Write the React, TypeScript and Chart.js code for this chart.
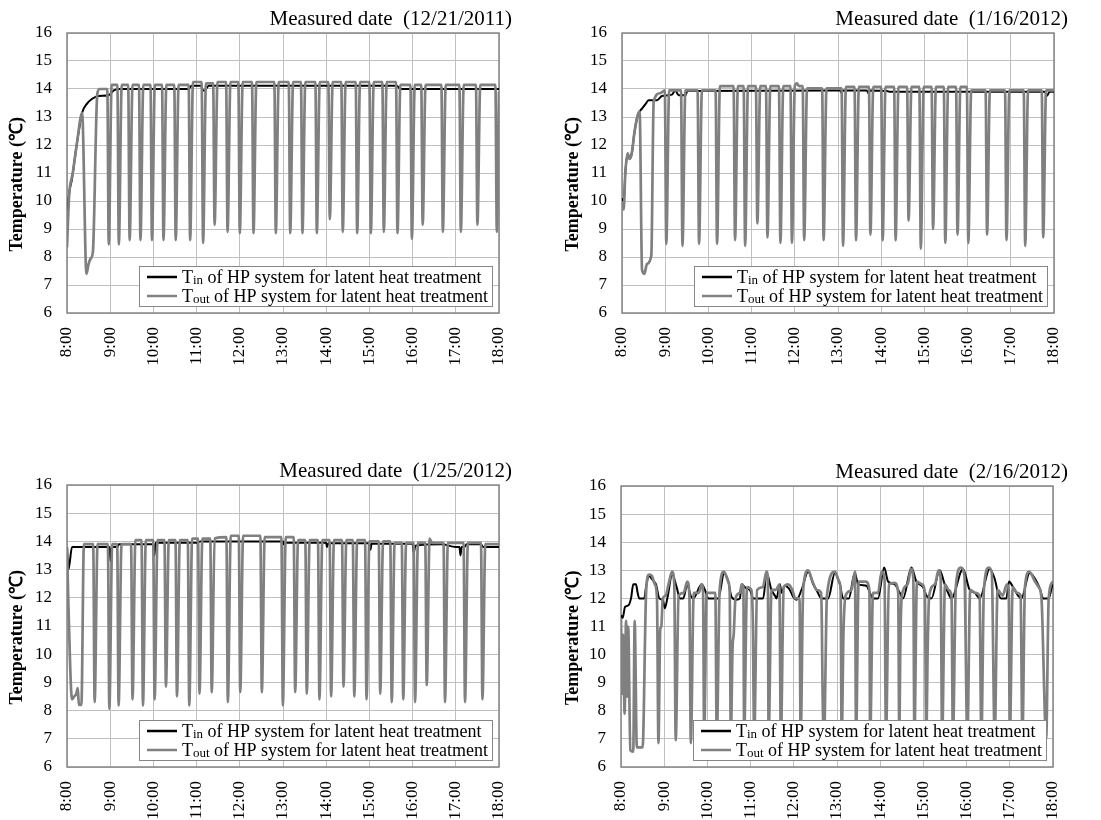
import React, { useEffect, useRef } from "react";
import { Chart, registerables } from "chart.js";

Chart.register(...registerables);
Chart.defaults.font.family = '"Liberation Serif", "Times New Roman", serif';

// ---------- labels ----------
const timeLabels = ["8:00", "9:00", "10:00", "11:00", "12:00", "13:00", "14:00", "15:00", "16:00", "17:00", "18:00"];
const measuredDates = ["Measured date  (12/21/2011)", "Measured date  (1/16/2012)", "Measured date  (1/25/2012)", "Measured date  (2/16/2012)"];
const seriesMain = ["T", "T"];
const seriesSub = ["in", "out"];
const seriesRest = " of HP system for latent heat treatment";
const yAxisTitle = "Temperature (\u2103)";

// ---------- data: [minutes after 8:00, temperature] ----------
const p1Tin: [number, number][] = [
  [0, 8.9], [2, 10.0], [7, 10.8], [14, 12.1], [21, 13.15], [27, 13.45], [35, 13.65], [44, 13.75], [58, 13.78], [65, 13.95], [72, 14.0],
  [169, 14.0], [173, 14.12], [186, 14.12], [189, 13.95], [191, 13.95], [197, 14.12], [458, 14.12], [463, 14.0], [600, 14.0],
];
const p1Tout: [number, number][] = [
  [0, 8.35], [3, 10.2], [8, 11.0], [14, 12.1], [21, 13.15], [27, 7.4], [30, 7.75], [33, 7.95], [36, 8.2], [42, 13.8], [45, 14.0],
  [56, 14.0], [58, 8.45], [62, 14.15],
  [70, 14.15], [72, 8.45], [76, 14.15],
  [85, 14.15], [87, 8.6], [91, 14.15],
  [100, 14.15], [102, 8.6], [106, 14.15],
  [116, 14.15], [118, 8.6], [122, 14.15],
  [132, 14.15], [134, 8.6], [138, 14.15],
  [149, 14.15], [151, 8.6], [155, 14.15],
  [169, 14.15], [171, 8.6], [175, 14.25],
  [187, 14.25], [189, 8.5], [193, 14.2],
  [203, 14.2], [205, 9.15], [209, 14.25],
  [221, 14.25], [223, 8.9], [227, 14.25],
  [238, 14.25], [240, 8.85], [244, 14.25],
  [257, 14.25], [259, 8.85], [263, 14.25],
  [288, 14.25], [290, 8.85], [294, 14.25],
  [308, 14.25], [310, 8.85], [314, 14.25],
  [325, 14.25], [327, 8.85], [331, 14.25],
  [345, 14.25], [347, 8.85], [351, 14.25],
  [363, 14.25], [365, 9.35], [369, 14.25],
  [381, 14.25], [383, 8.9], [387, 14.25],
  [401, 14.25], [403, 8.85], [407, 14.25],
  [420, 14.25], [422, 8.85], [426, 14.25],
  [438, 14.25], [440, 8.9], [444, 14.25],
  [457, 14.25], [459, 8.85], [463, 14.15],
  [477, 14.15], [479, 8.65], [483, 14.15],
  [492, 14.15], [494, 9.15], [498, 14.15],
  [520, 14.15], [522, 8.9], [526, 14.15],
  [545, 14.15], [547, 8.9], [551, 14.15],
  [568, 14.15], [570, 9.15], [574, 14.15],
  [595, 14.15], [597, 8.9], [600, 13.9],
];

const p2Tin: [number, number][] = [
  [0, 10.1], [2.3, 9.9], [4.6, 11.0], [7.9, 11.7], [10.6, 11.5], [13.9, 11.75], [17, 12.4], [21.7, 13.05], [27.8, 13.3], [32.4, 13.45],
  [37, 13.6], [48.6, 13.6], [55.5, 13.75], [69.4, 13.8], [74, 13.95], [78.6, 13.78], [88, 13.78], [91, 13.93], [303, 13.95], [305, 13.85],
  [307, 13.95], [340, 13.95], [342, 13.85], [344, 13.95], [368, 13.93], [372, 13.9], [587.5, 13.9], [590, 13.75], [594, 13.9], [600, 13.9],
];
const p2Tout: [number, number][] = [
  [0, 10.0], [2.3, 9.7], [4.6, 11.0], [7.9, 11.7], [10.6, 11.5], [13.9, 11.75], [17, 12.4], [21.7, 13.05], [24.5, 13.2], [27.8, 7.55],
  [31, 7.4], [34.7, 7.75], [40.7, 8.05], [44, 13.55], [53, 13.85], [59.5, 13.95],
  [61.5, 8.47], [65.5, 13.95],
  [82, 13.95], [84, 8.4], [88, 13.95],
  [105, 13.95], [107, 8.47], [111, 13.95],
  [130, 13.95], [132, 8.47], [136, 14.1],
  [155, 14.1], [157, 8.6], [161, 14.1],
  [169, 14.1], [171, 8.4], [175, 14.1],
  [186, 14.1], [188, 9.2], [192, 14.1],
  [200, 14.1], [202, 8.7], [206, 14.1],
  [218, 14.1], [220, 8.5], [224, 14.1],
  [234, 14.1], [236, 8.5], [240, 14.1], [243, 14.2], [246, 14.1],
  [251, 14.1], [253, 8.6], [257, 14.02],
  [278, 14.02], [280, 8.6], [284, 14.02],
  [305, 14.02], [307, 8.4], [311, 14.08],
  [323, 14.08], [325, 8.6], [329, 14.08],
  [343, 14.08], [345, 8.8], [349, 14.08],
  [360, 14.08], [362, 8.6], [366, 14.08],
  [378, 14.08], [380, 8.6], [384, 14.08],
  [396, 14.08], [398, 9.3], [402, 14.08],
  [413, 14.08], [415, 8.3], [419, 14.08],
  [430, 14.08], [432, 9.0], [436, 14.08],
  [447, 14.08], [449, 8.5], [453, 14.08],
  [464, 14.08], [466, 8.8], [470, 14.08],
  [479, 14.08], [481, 8.5], [485, 13.95],
  [505, 13.95], [507, 8.8], [511, 13.95],
  [532, 13.95], [534, 8.6], [538, 13.95],
  [558, 13.95], [560, 8.4], [564, 13.95],
  [583, 13.95], [585, 8.7], [589, 13.95], [600, 13.95],
];

const p3Tin: [number, number][] = [
  [0, 13.8], [2, 13.0], [7, 13.8], [59, 13.8], [60.5, 13.3], [62, 13.8], [70, 13.8], [72, 13.9], [120, 13.9], [121.5, 13.5],
  [123, 13.95], [180, 13.95], [185, 14.0], [300, 14.0], [301, 13.9], [303, 13.95], [360, 13.95], [361, 13.8], [363, 13.93], [420, 13.93],
  [421.5, 13.7], [423, 13.92], [480, 13.92], [481.5, 13.6], [484, 13.85], [520, 13.9], [540, 13.8], [545, 13.8], [546.5, 13.5], [548, 13.8],
  [552, 13.8], [555, 13.9], [575, 13.9], [578, 13.8], [600, 13.8],
];
const p3Tout: [number, number][] = [
  [0, 13.8], [2, 11.7], [7, 8.4], [10, 8.5], [13, 8.6], [15, 8.8], [16.5, 8.2], [20, 8.2], [23.5, 13.9],
  [36.4, 13.9], [38.4, 8.3], [42.4, 13.9],
  [56.8, 13.9], [58.8, 8.06], [62.8, 13.9],
  [69.7, 13.9], [71.7, 8.18], [75.7, 13.9],
  [89, 13.9], [91, 8.4], [95, 14.05],
  [103.5, 14.05], [105.5, 8.18], [109.5, 14.05],
  [119.7, 14.05], [121.7, 8.4], [125.7, 14.05],
  [135.4, 14.05], [137.4, 8.85], [141.4, 14.05],
  [150.7, 14.05], [152.7, 8.5], [156.7, 14.05],
  [167.8, 14.05], [169.8, 8.18], [173.8, 14.1],
  [182, 14.1], [184, 8.6], [188, 14.1],
  [199, 14.1], [201, 8.65], [205, 14.1],
  [221.4, 14.15], [223.4, 8.3], [227.4, 14.2],
  [238.6, 14.2], [240.6, 8.65], [244.6, 14.2],
  [268.6, 14.2], [270.6, 8.65], [274.6, 14.15],
  [297.8, 14.15], [299.8, 8.18], [303.8, 14.15],
  [314.9, 14.15], [316.9, 8.65], [320.9, 14.05],
  [331, 14.05], [333, 8.6], [337, 14.05],
  [348.6, 14.05], [350.6, 8.4], [354.6, 14.05],
  [364.8, 14.05], [366.8, 8.5], [370.8, 14.05],
  [382, 14.05], [384, 8.85], [388, 14.05],
  [397, 14.05], [399, 8.5], [403, 14.05],
  [414, 14.05], [416, 8.4], [420, 14.0],
  [433, 14.0], [435, 8.6], [439, 14.0],
  [449, 14.0], [451, 8.3], [455, 13.95],
  [465, 13.95], [467, 8.4], [471, 13.95],
  [481.4, 13.95], [483.4, 8.3], [487.4, 13.95],
  [497.6, 13.95], [499.6, 8.9], [503.6, 14.1], [507, 13.95],
  [523, 13.95], [525, 8.3], [529, 13.95],
  [550.8, 13.95], [552.8, 8.3], [556.8, 13.95],
  [575, 13.95], [577, 8.4], [581, 13.9], [600, 13.9],
];

const p4Tin: [number, number][] = [
  [0, 11.4], [2.3, 11.3], [5.6, 11.7], [10.2, 11.75], [13.9, 12.0], [17.1, 12.5], [20.8, 12.5], [23.1, 12.2], [25.4, 12.0], [32.4, 12.0],
  [34.7, 12.4], [38.9, 12.8], [42.6, 12.7], [45.8, 12.6], [48.6, 12.5], [53.2, 12.0], [57.8, 11.95], [61, 11.65], [64.3, 12.0], [71.2, 12.85],
  [77.3, 12.4], [81.9, 12.0], [86.5, 12.0], [92, 12.5], [96.7, 12.1], [100.4, 12.0], [112, 12.5], [116.6, 12.3], [121.2, 12.0], [135, 12.0],
  [143.4, 12.9], [149, 12.6], [153.6, 12.05], [160.5, 11.95], [165.1, 12.0], [167.5, 12.5], [174.4, 12.35], [179, 12.3], [183.7, 12.0], [197.5, 12.0],
  [202.2, 12.9], [209, 12.3], [213.7, 12.1], [216, 12.0], [220.7, 12.5], [223, 12.2], [227.6, 12.45], [234.5, 12.3], [239.2, 12.05], [243.8, 11.95],
  [250.7, 12.3], [260, 12.95], [267, 12.5], [271.5, 12.3], [278.5, 12.0], [287.7, 12.0], [297, 12.9], [304, 12.5], [308.5, 12.0], [316.4, 12.0],
  [324.7, 12.9], [329.4, 12.5], [341, 12.45], [345.6, 12.2], [350.2, 12.0], [357, 12.0], [365.5, 13.1], [371, 12.6], [380.3, 12.5], [387.2, 12.2],
  [391.8, 12.0], [403.4, 13.1], [410.3, 12.6], [419.6, 12.4], [424.2, 12.1], [431.1, 12.0], [442.7, 13.0], [449.6, 12.5], [454.3, 12.2], [458.9, 12.0],
  [475, 13.05], [484.3, 12.3], [491.3, 12.2], [498.2, 12.0], [512, 13.05], [519, 12.7], [523.6, 12.2], [528.2, 12.0], [535.2, 12.0], [538.9, 12.6],
  [544.5, 12.4], [551.4, 12.1], [556, 12.0], [567.6, 12.9], [579.2, 12.5], [582.4, 12.3], [586.1, 12.0], [594, 12.0], [600, 12.6],
];
const p4Tout: [number, number][] = [
  [0, 11.3], [1.5, 8.6], [3, 10.7], [5, 7.9], [7, 11.2], [8.5, 8.5], [10, 11.0], [13, 6.6], [17, 6.55], [19, 11.2], [22, 6.7], [30, 6.7],
  [35, 12.3], [39, 12.85], [43, 12.8], [47, 12.5], [50, 12.0], [52, 6.85], [54.5, 10.9], [56, 11.0], [58, 12.0], [62, 12.1], [66, 12.5],
  [71, 12.95], [74, 12.5], [76, 6.95], [80, 12.1], [87, 12.2], [92, 12.6], [95, 12.1], [97, 6.85], [101, 12.2], [108, 12.2], [112, 12.5],
  [114, 12.2], [115.5, 7.0], [119, 12.2], [125, 12.2], [131, 12.2], [133, 7.0], [137, 12.3], [143, 12.95], [149, 12.6], [151, 12.2],
  [152.5, 7.0], [155, 10.3], [156.5, 10.7], [159, 12.0], [165, 12.2], [168, 12.5], [170, 12.4], [171, 7.0], [175, 12.4], [181, 12.3],
  [183, 11.3], [185, 7.0], [189, 12.3], [197, 12.4], [202, 12.95], [204, 12.7], [205, 7.0], [209, 12.3], [215, 12.3], [220, 12.5],
  [222, 7.0], [226, 12.4], [232, 12.5], [238, 12.3], [242, 12.0], [248, 12.0], [249.5, 7.0], [253, 12.3], [260, 13.0], [266, 12.6],
  [272, 12.3], [278, 12.2], [279, 11.0], [280, 8.6], [282, 7.0], [286, 12.1], [297, 12.95], [303, 12.6], [305, 12.3], [306.5, 7.0],
  [309, 10.8], [312, 12.1], [320, 12.3], [325, 12.95], [326.5, 7.0], [330, 12.6], [340, 12.6], [345, 12.3], [346, 7.0], [350, 12.2],
  [357, 12.2], [362, 12.95], [366, 12.7], [368, 7.0], [372, 12.5], [380, 12.55], [385, 12.2], [386.5, 7.0], [388, 10.4], [390, 12.1],
  [398, 12.5], [403, 13.05], [406, 12.7], [407.5, 7.0], [411, 12.6], [418, 12.5], [422, 12.2], [424, 7.0], [426, 10.3], [428, 12.1],
  [436, 12.5], [441, 13.0], [444, 12.7], [446, 7.0], [450, 12.5], [455, 12.3], [459, 12.1], [461, 7.0], [465, 12.4], [472, 13.1],
  [477, 12.8], [481, 7.0], [485, 12.3], [492, 12.2], [498, 12.1], [500.5, 7.0], [504, 12.3], [511, 13.1], [515, 12.9], [519, 7.0],
  [523, 12.3], [530, 12.1], [536, 12.5], [538.5, 12.3], [540, 7.0], [544, 12.4], [550, 12.2], [555, 12.1], [557.5, 7.0], [561, 12.4],
  [567, 12.95], [575, 12.6], [580, 12.4], [584, 12.0], [587, 9.5], [588.5, 8.0], [590.5, 7.0], [594, 12.0], [600, 12.6],
];

const tinSeries = [p1Tin, p2Tin, p3Tin, p4Tin];
const toutSeries = [p1Tout, p2Tout, p3Tout, p4Tout];

// ---------- layout ----------
type Cfg = {
  left: number; top: number; w: number; h: number;
  area: { l: number; t: number; r: number; b: number };
  yTitlePad: number; titleDx: number; titleDy: number;
};
const layouts: Cfg[] = [
  { left: 0, top: 0, w: 550, h: 400, area: { l: 67, t: 33, r: 499, b: 313 }, yTitlePad: 8, titleDx: 13, titleDy: 8 },
  { left: 550, top: 0, w: 551, h: 400, area: { l: 72, t: 33, r: 504, b: 313 }, yTitlePad: 14, titleDx: 14, titleDy: 8 },
  { left: 0, top: 400, w: 550, h: 420, area: { l: 67, t: 85, r: 499, b: 367 }, yTitlePad: 8, titleDx: 13, titleDy: 8 },
  { left: 550, top: 400, w: 551, h: 420, area: { l: 71, t: 86, r: 503, b: 367 }, yTitlePad: 14, titleDx: 15, titleDy: 8 },
];

const FONT = '"Liberation Serif", "Times New Roman", serif';
const TIN_COLOR = "#000000";
const TOUT_COLOR = "#808080";
const FRAME_COLOR = "#868686";

const panelDeco = {
  id: "panelDeco",
  beforeDatasetsDraw(chart: any) {
    const { ctx, chartArea: a } = chart;
    ctx.save();
    ctx.strokeStyle = FRAME_COLOR;
    ctx.lineWidth = 1.5;
    ctx.strokeRect(a.left, a.top, a.right - a.left, a.bottom - a.top);
    ctx.restore();
  },
  afterDraw(chart: any, _args: any, opts: any) {
    const { ctx, chartArea: a } = chart;
    ctx.save();
    ctx.fillStyle = "#000";
    ctx.font = `21px ${FONT}`;
    ctx.textAlign = "right";
    ctx.textBaseline = "alphabetic";
    ctx.fillText(opts.title, a.right + opts.titleDx, a.top - opts.titleDy);

    const bw = 353, bh = 40;
    const bx = Math.round(a.right - 7 - bw), by = Math.round(a.bottom - 7 - bh);
    ctx.fillStyle = "#fff";
    ctx.fillRect(bx, by, bw, bh);
    ctx.strokeStyle = FRAME_COLOR;
    ctx.lineWidth = 1;
    ctx.strokeRect(bx + 0.5, by + 0.5, bw, bh);

    chart.data.datasets.forEach((ds: any, i: number) => {
      const ly = by + 11 + i * 19;
      ctx.strokeStyle = ds.borderColor;
      ctx.lineWidth = 2.5;
      ctx.beginPath();
      ctx.moveTo(bx + 8, ly);
      ctx.lineTo(bx + 38, ly);
      ctx.stroke();
      const base = by + 17 + i * 19;
      let x = bx + 43;
      ctx.textAlign = "left";
      ctx.fillStyle = "#000";
      ctx.font = `18px ${FONT}`;
      ctx.fillText(seriesMain[i], x, base);
      x += ctx.measureText(seriesMain[i]).width;
      ctx.font = `13px ${FONT}`;
      ctx.fillText(seriesSub[i], x, base + 1);
      x += ctx.measureText(seriesSub[i]).width;
      ctx.font = `18px ${FONT}`;
      ctx.fillText(seriesRest, x, base);
    });
    ctx.restore();
  },
};

function Panel({ idx }: { idx: number }) {
  const ref = useRef<HTMLCanvasElement>(null);
  const cfg = layouts[idx];
  useEffect(() => {
    const toXY = (arr: [number, number][]) => arr.map(([x, y]) => ({ x, y }));
    const chart = new Chart(ref.current as HTMLCanvasElement, {
      type: "line",
      data: {
        datasets: [
          {
            label: "Tin of HP system for latent heat treatment",
            data: toXY(tinSeries[idx]),
            borderColor: TIN_COLOR,
            borderWidth: 2,
            pointRadius: 0,
            cubicInterpolationMode: "monotone",
            order: 1,
          },
          {
            label: "Tout of HP system for latent heat treatment",
            data: toXY(toutSeries[idx]),
            borderColor: TOUT_COLOR,
            borderWidth: 2.7,
            pointRadius: 0,
            cubicInterpolationMode: "monotone",
            order: 0,
          },
        ],
      } as any,
      options: {
        responsive: false,
        animation: false,
        events: [],
        layout: { padding: { left: 0, top: cfg.area.t, right: cfg.w - cfg.area.r, bottom: 0 } },
        plugins: {
          legend: { display: false },
          tooltip: { enabled: false },
          panelDeco: { title: measuredDates[idx], titleDx: cfg.titleDx, titleDy: cfg.titleDy },
        } as any,
        scales: {
          x: {
            type: "linear",
            min: 0,
            max: 600,
            afterFit: (s: any) => { s.height = cfg.h - cfg.area.b; },
            ticks: {
              stepSize: 60,
              autoSkip: false,
              minRotation: 90,
              maxRotation: 90,
              padding: 14,
              color: "#000",
              font: { family: FONT, size: 17 },
              callback: (v: any) => timeLabels[Math.round(Number(v) / 60)],
            },
            grid: { color: "#c0c0c0", lineWidth: 1, drawTicks: false },
            border: { display: false },
          },
          y: {
            type: "linear",
            min: 6,
            max: 16,
            afterFit: (s: any) => { s.width = cfg.area.l; },
            ticks: {
              stepSize: 1,
              padding: 15,
              color: "#000",
              font: { family: FONT, size: 17 },
            },
            grid: { color: "#c0c0c0", lineWidth: 1, drawTicks: false },
            border: { display: false },
            title: {
              display: true,
              text: yAxisTitle + "     ",
              color: "#000",
              font: { family: FONT, size: 18, weight: "bold" },
              padding: { top: cfg.yTitlePad - 1, bottom: 0 },
            },
          },
        } as any,
      },
      plugins: [panelDeco],
    });
    return () => chart.destroy();
  }, []);
  return (
    <canvas
      ref={ref}
      width={cfg.w}
      height={cfg.h}
      style={{ position: "absolute", left: cfg.left, top: cfg.top, width: cfg.w, height: cfg.h }}
    />
  );
}

export default function App() {
  return (
    <div style={{ position: "absolute", left: 0, top: 0, width: 1101, height: 820, background: "#fff", overflow: "hidden" }}>
      {layouts.map((_, i) => (
        <Panel key={i} idx={i} />
      ))}
    </div>
  );
}
